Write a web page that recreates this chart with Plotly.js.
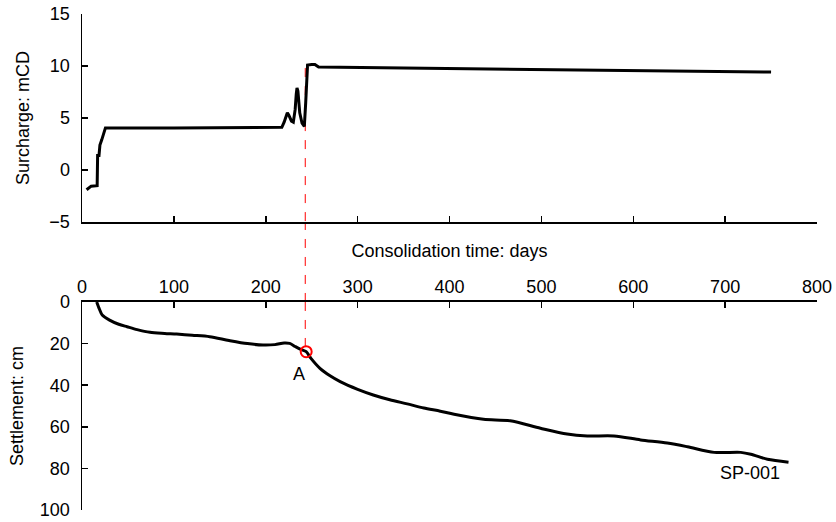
<!DOCTYPE html>
<html>
<head>
<meta charset="utf-8">
<script src="https://cdn.plot.ly/plotly-3.0.1.min.js"></script>
<style>html,body{margin:0;padding:0;background:#fff;}#chart{width:836px;height:522px;}</style>
</head>
<body>
<div id="chart"></div>
<script>
// Surcharge (top panel)
const surchargeDays = [5, 10, 16.5, 17, 18.5, 19.5, 21.5, 25.5, 100, 200, 217.5, 220, 222, 223.5, 225, 228, 230, 232, 233.2, 234, 235, 237, 239.5, 242, 243.5, 244.5, 245.5, 250, 253.5, 257.5, 400, 564, 750];
const surchargeLevel = [-1.9, -1.55, -1.5, 1.4, 1.4, 2.4, 2.9, 4.05, 4.05, 4.1, 4.1, 4.6, 5.2, 5.5, 5.3, 4.7, 4.6, 5.8, 7.3, 7.9, 7.6, 5.5, 4.5, 4.2, 6.5, 9.0, 10.1, 10.15, 10.15, 9.9, 9.75, 9.6, 9.42];

// Settlement (bottom panel)
const settlementDays = [16, 19, 22, 30, 40, 49, 60, 74, 90, 103, 120, 139, 160, 180, 197, 210, 220, 226, 232, 238, 244, 249, 259, 270, 281, 300, 317, 335, 354, 372, 390, 405, 437, 466, 499, 528, 550, 579, 608, 637, 659, 688, 717, 728, 746, 769];
const settlementCm = [0, 3.5, 6.3, 8.7, 10.7, 11.9, 13.3, 14.6, 15.1, 15.4, 16.0, 16.7, 18.5, 20.0, 20.7, 20.5, 19.7, 19.9, 21.4, 22.8, 23.9, 27, 31.9, 35.5, 38.3, 42, 44.7, 47, 49, 51, 52.5, 54, 56.4, 57.1, 60.7, 63.5, 64.4, 64.4, 66.3, 67.8, 69.6, 72.3, 72.3, 73.2, 75.6, 77];

// Marked point A
const pointADay = [244];
const pointASettlement = [23.9];
const pointASurcharge = 9.8;

const xTicks = [0, 100, 200, 300, 400, 500, 600, 700, 800];
const surchargeTicks = [-5, 0, 5, 10, 15];
const settlementTicks = [0, 20, 40, 60, 80, 100];

const FONT = 'Liberation Sans, Arial, sans-serif';
const topDomain = [0.5806, 1];
const botDomain = [0, 0.4194];

const traces = [
  {x: surchargeDays, y: surchargeLevel, xaxis: 'x', yaxis: 'y', mode: 'lines',
   line: {color: '#000', width: 3, shape: 'linear'}, hoverinfo: 'skip'},
  {x: settlementDays, y: settlementCm, xaxis: 'x2', yaxis: 'y2', mode: 'lines',
   line: {color: '#000', width: 3, shape: 'spline', smoothing: 0.8}, hoverinfo: 'skip'},
  {x: pointADay, y: pointASettlement, xaxis: 'x2', yaxis: 'y2', mode: 'markers',
   marker: {symbol: 'circle-open', size: 11, color: '#ff0000', line: {width: 2, color: '#ff0000'}}, hoverinfo: 'skip'}
];

const axisCommon = {
  showline: true, linecolor: '#000', linewidth: 1.5,
  ticks: 'inside', ticklen: 6, tickwidth: 1.5, tickcolor: '#000',
  showgrid: false, zeroline: false,
  tickfont: {family: FONT, size: 18, color: '#000'}
};

const layout = {
  width: 836, height: 522,
  margin: {l: 82, r: 19, t: 14, b: 12},
  paper_bgcolor: '#fff', plot_bgcolor: '#fff',
  showlegend: false,
  font: {family: FONT, size: 18, color: '#000'},
  xaxis: Object.assign({}, axisCommon, {
    domain: [0, 1], anchor: 'y', range: [0, 800], tickvals: xTicks, showticklabels: false
  }),
  yaxis: Object.assign({}, axisCommon, {
    domain: topDomain, anchor: 'x', range: [-5, 15], tickvals: surchargeTicks, ticklabelstandoff: 7,
    title: {text: 'Surcharge: mCD', font: {family: FONT, size: 18, color: '#000'}, standoff: 15}
  }),
  xaxis2: Object.assign({}, axisCommon, {
    domain: [0, 1], anchor: 'y2', side: 'top', range: [0, 800], tickvals: xTicks,
    title: {text: 'Consolidation time: days', font: {family: FONT, size: 18, color: '#000'}, standoff: 15}
  }),
  yaxis2: Object.assign({}, axisCommon, {
    domain: botDomain, anchor: 'x2', range: [100, 0], tickvals: settlementTicks, ticklabelstandoff: 7,
    title: {text: 'Settlement: cm', font: {family: FONT, size: 18, color: '#000'}, standoff: 11}
  }),
  shapes: [
    {type: 'line', xref: 'x', yref: 'y', x0: pointADay[0] - 1, x1: pointADay[0] - 1, y0: pointASurcharge, y1: -5,
     line: {color: '#ff0000', width: 1, dash: 'dash'}, layer: 'below'},
    {type: 'line', xref: 'x', yref: 'paper', x0: pointADay[0] - 1, x1: pointADay[0] - 1, y0: botDomain[1], y1: topDomain[0],
     line: {color: '#ff0000', width: 1, dash: 'dash'}, layer: 'below'},
    {type: 'line', xref: 'x2', yref: 'y2', x0: pointADay[0] - 1, x1: pointADay[0] - 1, y0: 0, y1: pointASettlement[0] - 2.5,
     line: {color: '#ff0000', width: 1, dash: 'dash'}, layer: 'below'}
  ],
  annotations: [
    {xref: 'x2', yref: 'y2', x: 236, y: 34.5, text: 'A', showarrow: false,
     font: {family: FONT, size: 18, color: '#000'}},
    {xref: 'x2', yref: 'y2', x: 727, y: 82, text: 'SP-001', showarrow: false,
     font: {family: FONT, size: 18, color: '#000'}}
  ]
};

Plotly.newPlot('chart', traces, layout, {staticPlot: true, displayModeBar: false});
</script>
</body>
</html>
